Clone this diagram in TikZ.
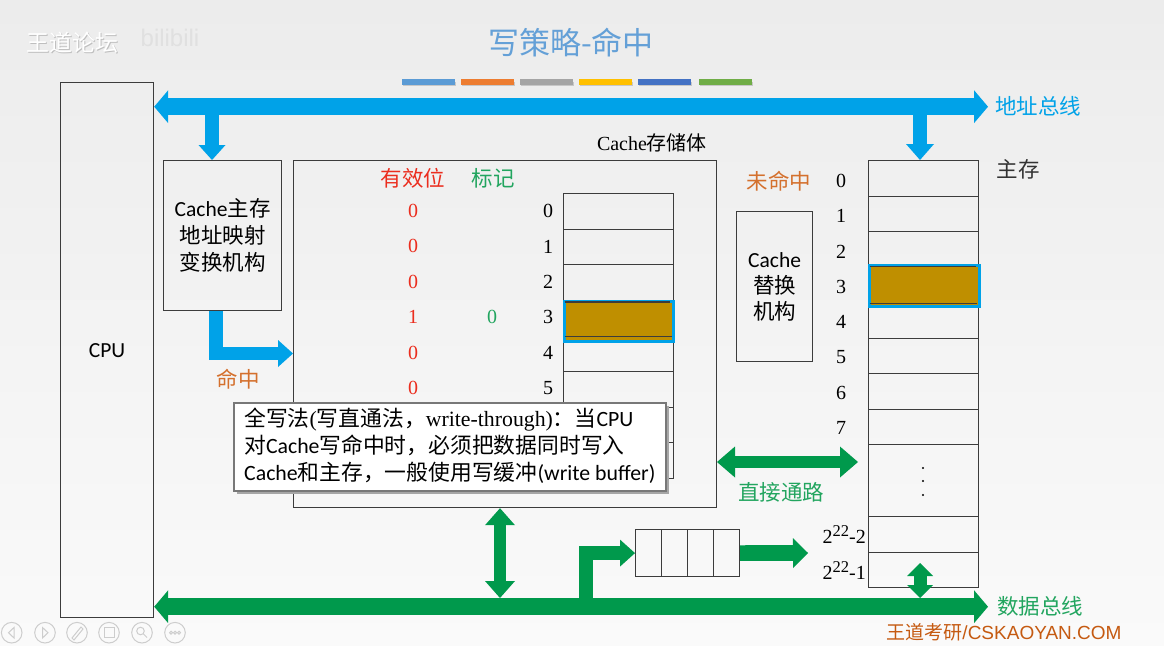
\documentclass[tikz,border=0pt]{standalone}
\usepackage{fontspec}
\setmainfont{Liberation Serif}
\newfontfamily\cjk{Noto Sans CJK SC}
\newfontfamily\calib{Carlito}
\newfontfamily\arialf{Liberation Sans}
\usetikzlibrary{arrows.meta}
\newcommand\fsz[1]{\fontsize{#1}{#1}\selectfont}
\newcommand\fszl[2]{\fontsize{#1}{#2}\selectfont}
\newcommand\supp[1]{\raisebox{7pt}{\fsz{16.5}#1}}
\definecolor{bgtop}{RGB}{236,236,236}
\definecolor{bgbot}{RGB}{250,250,250}
\definecolor{busblue}{RGB}{0,162,232}
\definecolor{busgreen}{RGB}{0,153,76}
\definecolor{txtgreen}{RGB}{34,165,95}
\definecolor{txtred}{RGB}{235,45,30}
\definecolor{txtorange}{RGB}{212,112,45}
\definecolor{brownfill}{RGB}{191,143,0}
\definecolor{titleblue}{RGB}{100,160,215}
\definecolor{boxline}{RGB}{60,60,60}
\definecolor{wmorange}{RGB}{197,90,17}
\definecolor{notegray}{RGB}{120,120,120}
\definecolor{navgray}{RGB}{205,205,205}
\definecolor{cbA}{RGB}{91,155,213}
\definecolor{cbB}{RGB}{237,125,49}
\definecolor{cbC}{RGB}{165,165,165}
\definecolor{cbD}{RGB}{255,192,0}
\definecolor{cbE}{RGB}{68,114,196}
\definecolor{cbF}{RGB}{112,173,71}
\begin{document}
\begin{tikzpicture}[x=1pt,y=-1pt,
  box/.style={draw=boxline,line width=1.2pt,inner sep=0pt,anchor=north west},
  cell/.style={box,minimum width=110pt,minimum height=#1},
  txt/.style={inner sep=0pt},
  zh/.style={txt,font=\fsz{21.5}\cjk},
  num/.style={txt,font=\fsz{20}},
  blk/.style n args={4}{draw=#1,line width=#2,line join=miter,arrows={-Triangle[width=#3,length=#4,line width=0pt]}},
  dblk/.style n args={4}{draw=#1,line width=#2,arrows={Triangle[width=#3,length=#4,line width=0pt]-Triangle[width=#3,length=#4,line width=0pt]}},
]
\useasboundingbox (0,0) rectangle (1164,645);
\shade[top color=bgtop,bottom color=bgbot] (0,0) rectangle (1164,645);

% watermark top-left
\node[txt,font=\fsz{23}\cjk,text=black!25] (wmA) at (73.5,43.5) {王道论坛};
\node[txt,font=\fsz{23}\cjk,text=white] (wmB) at (72.5,42.5) {王道论坛};
\node[txt,font=\fsz{24}\arialf,text=black!12] (bili) at (170,38) {bilibili};

% title and colour bars
\node[txt,font=\fsz{31}\cjk,text=titleblue] (title) at (571,43) {写策略-命中};
\foreach \xa/\c in {402/cbA,461/cbB,520/cbC,579/cbD,638/cbE,699/cbF}{
  \fill[black!22] (\xa+1,81.5) rectangle (\xa+54,86);
  \fill[\c] (\xa,79) rectangle (\xa+53,84.5);
}

% CPU
\node[box,minimum width=93pt,minimum height=535pt,font=\fsz{21.5}\calib] (cpu) at (60,82) {CPU};

% mapping box
\node[box,minimum width=118pt,minimum height=150pt,align=center,font=\fszl{21.5}{27}\cjk] (map) at (163,160) {{\calib Cache}主存\\地址映射\\变换机构};

% cache storage
\node[box,minimum width=423pt,minimum height=347pt] (cache) at (293,160) {};
\node[txt,font=\fsz{20}] (cachelbl) at (652,143) {Cache{\cjk 存储体}};
\node[zh,text=txtred] (vhead) at (413,178) {有效位};
\node[zh,text=txtgreen] (thead) at (493,178) {标记};
\foreach \i in {0,...,7}{
  \node[cell=35.6pt] (c\i) at (563,193+35.6*\i) {};
}
\node[draw=busblue,line width=3pt,fill=brownfill,minimum width=108.3pt,minimum height=40.7pt,inner sep=0pt,anchor=north west] (hc) at (563.2,299.5) {};
\draw[boxline,line width=1.1pt] (hc.north west) ++(1.5,2.5) -- ++(105.3,0);
\draw[boxline,line width=1.1pt] (c3.south west) ++(1.5,0) -- ++(107,0);
\foreach \v [count=\i from 0] in {0,0,0,1,0,0}{
  \node[num,text=txtred] (v\i) at (413,211+35.4*\i) {\v};
  \node[num] (ci\i) at (548,211+35.4*\i) {\i};
}
\node[num,text=txtgreen] (tag3) at (492,317) {0};

% replacement box
\node[box,minimum width=76pt,minimum height=150pt,align=center,font=\fszl{21.5}{26}\cjk] (repl) at (736,211) {{\calib Cache}\\替换\\机构};
\node[zh,text=txtorange] (miss) at (779,181) {未命中};

% main memory
\foreach \i in {0,...,7}{
  \node[cell=35.5pt] (m\i) at (868,160+35.5*\i) {};
  \node[num] (mi\i) at (841,181+35.3*\i) {\i};
}
\node[cell=72pt] (mdots) at (868,444) {};
\node[cell=35.5pt] (mA) at (868,516) {};
\node[cell=35.5pt] (mB) at (868,551.5) {};
\node[draw=busblue,line width=3pt,fill=brownfill,minimum width=109.6pt,minimum height=41.4pt,inner sep=0pt,anchor=north west] (hm) at (868.2,263.8) {};
\draw[boxline,line width=1.1pt] (hm.north west) ++(1.5,3) -- ++(106.6,0);
\draw[boxline,line width=1.1pt] (m3.south west) ++(1.5,0) -- ++(107,0);
\foreach \yy [count=\k] in {468,481,495}{
  \fill[black] (923,\yy) circle (1.2);
}
\node[num,anchor=east] (mAl) at (866,535) {2\supp{22}-2};
\node[num,anchor=east] (mBl) at (866,571) {2\supp{22}-1};
\node[zh,text=black!80] (memlbl) at (1018,169) {主存};

% address bus
\coordinate (abR) at (988,106.7);
\draw[dblk={busblue}{16.7pt}{33pt}{14pt}] (abR -| cpu.east) -- (abR);
\node[zh,text=busblue] (ablbl) at (1038,106) {地址总线};
\coordinate (ab1) at (212,106.7);
\draw[blk={busblue}{13.3pt}{27pt}{15pt}] (ab1) -- (ab1 |- map.north);
\coordinate (ab2) at (920,106.7);
\draw[blk={busblue}{13.3pt}{28pt}{16pt}] (ab2) -- (ab2 |- m0.north);

% hit arrow
\coordinate (hit) at (216,353.5);
\draw[blk={busblue}{13.3pt}{27pt}{15pt}] (hit |- map.south) |- (hit -| cache.west);
\node[zh,text=txtorange] (hitlbl) at (238,379) {命中};

% direct path
\coordinate (dpL) at (717,462);
\coordinate (dpR) at (858,462);
\draw[dblk={busgreen}{11.7pt}{31pt}{18pt}] (dpL) -- (dpR);
\node[zh,text=txtgreen] (dplbl) at (781,492) {直接通路};

% data bus
\coordinate (dbR) at (988,606.7);
\draw[dblk={busgreen}{16.7pt}{33pt}{14pt}] (dbR -| cpu.east) -- (dbR);
\node[zh,text=txtgreen] (dblbl) at (1040,606) {数据总线};
\coordinate (vA) at (500,598);
\draw[dblk={busgreen}{12pt}{30pt}{17pt}] (vA |- cache.south) -- (vA);
\coordinate (vB) at (920,598);
\coordinate (vBt) at (920,563);
\draw[dblk={busgreen}{13pt}{26pt}{13pt}] (vBt) -- (vB);

% write buffer
\foreach \i in {1,...,4}{
  \node[box,minimum width=26pt,minimum height=47pt] (b\i) at (635+26*\i-26,529) {};
}
\coordinate (wb) at (586,606.7);
\draw[blk={busgreen}{14pt}{27pt}{15pt}] (wb) |- (b1.west);
\coordinate (bo) at (808,553);
\draw[blk={busgreen}{15.7pt}{30pt}{15pt}] (b4.east) -- (bo);

% callout
\fill[black!35] (236.5,405.5) rectangle (668.5,493.5);
\node[draw=notegray,line width=1.5pt,fill=white,minimum width=432pt,minimum height=88pt,inner sep=0pt,anchor=north west] (note) at (233,402) {};
\node[txt,anchor=west,align=left,font=\fszl{21.8}{27}\cjk] (notetxt) at (244,446) {全写法{\rmfamily (}写直通法，{\rmfamily write-through)}：当{\calib CPU}\\对{\calib Cache}写命中时，必须把数据同时写入\\{\calib Cache}和主存，一般使用写缓冲{\calib (write buffer)}};

% bottom-right watermark
\node[txt,font=\fsz{19},text=wmorange] (wmC) at (1004,632) {{\cjk 王道考研}{\arialf /CSKAOYAN.COM}};

% navigation icons
\begin{scope}[draw=navgray,line width=1pt]
\foreach \xc in {11.7,45,77,109,142,175}{\draw (\xc,632.7) circle (10.3);}
\draw (14,627.5) -- (8.5,632.7) -- (14,638) -- cycle;
\draw (42.5,627.5) -- (48,632.7) -- (42.5,638) -- cycle;
\draw (72,638) -- (81,627) -- (83,629) -- (74,640) -- cycle;
\draw (104,627.5) rectangle (114,637.5);
\draw (140.5,631) circle (3.8);
\draw (143.3,633.8) -- (147,637.5);
\foreach \dx in {-4,0,4}{\draw (175+\dx,632.7) circle (1.5);}
\end{scope}
\end{tikzpicture}
\end{document}
